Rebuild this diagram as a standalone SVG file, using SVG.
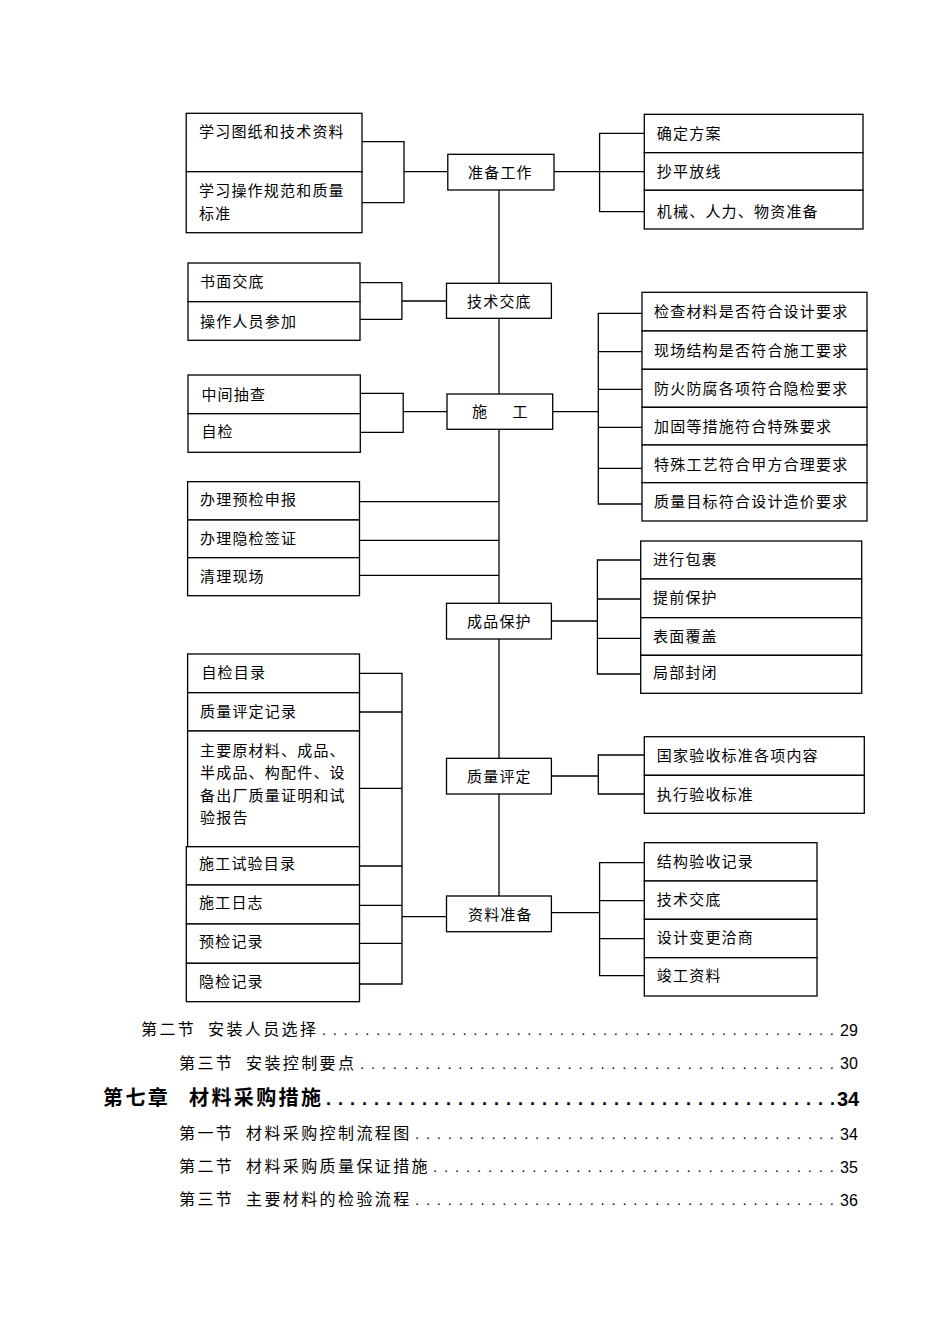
<svg xmlns="http://www.w3.org/2000/svg" width="950" height="1344" viewBox="0 0 950 1344">
<style>
.b{fill:#fff;stroke:#000;stroke-width:1.3}
.t{font-family:"Noto Sans CJK SC","Liberation Sans",sans-serif;font-size:15px;letter-spacing:1.2px;fill:#000}
.c path{fill:none;stroke:#000;stroke-width:1.3}
.toc{font-family:"Noto Sans CJK SC","Liberation Sans",sans-serif;font-size:16px;letter-spacing:2.4px;fill:#000}
.ch{font-family:"Noto Sans CJK SC","Liberation Sans",sans-serif;font-size:20px;font-weight:bold;letter-spacing:2.4px;fill:#000}
.dot{font-family:"Liberation Sans",sans-serif;font-size:15px;fill:#000}
.dotb{font-family:"Liberation Sans",sans-serif;font-size:18px;font-weight:bold;fill:#000}
.num{font-family:"Liberation Sans",sans-serif;font-size:16px;fill:#000}
.numb{font-family:"Liberation Sans",sans-serif;font-size:20px;font-weight:bold;fill:#000}
</style>
<rect width="950" height="1344" fill="#fff"/>
<g class="c" id="connectors">
<path d="M499 190V283.3M499 318.3V394M499 429.3V603.3M499 639V758.3M499 794V896"/>
<path d="M362 141.7H404V202.7H362M404 171.7H447.8"/>
<path d="M554 171.7H599.6M644.3 133.3H599.6V211.7H644.3M599.6 171.7H644.3"/>
<path d="M360 282.7H401.9V319.3H360M401.9 301H446.5"/>
<path d="M360.3 393.3H403.2V432.3H360.3M403.2 411.7H447"/>
<path d="M552.7 411.7H598.3M642 313.3H598.3V504H642M598.3 351.7H642M598.3 389.3H642M598.3 427.3H642M598.3 468.3H642"/>
<path d="M359.5 501.7H499M359.5 540.3H499M359.5 575.3H499"/>
<path d="M551.4 621H597.4M640.7 560H597.4V674H640.7M597.4 599H640.7M597.4 638.3H640.7"/>
<path d="M551.4 776H598.3M644.3 755H598.3V794H644.3"/>
<path d="M359.5 673.3H402V984H359.5M359.5 712H402M359.5 788.3H402M359.5 866H402M359.5 905.3H402M359.5 943.3H402M402 916.7H446.5"/>
<path d="M551.4 912.7H599.6M644.3 862.7H599.6V975.7H644.3M599.6 900.7H644.3M599.6 938.7H644.3"/>
</g>

<g id="n-zbgz"><rect class="b" x="447.8" y="154.3" width="106.2" height="35.7"/><text class="t" x="468" y="178">准备工作</text></g>
<g id="n-jsjd"><rect class="b" x="446.5" y="283.3" width="104.9" height="35"/><text class="t" x="467" y="307">技术交底</text></g>
<g id="n-sg"><rect class="b" x="447" y="394" width="105.7" height="35.3"/><text class="t" x="472" y="417">施 <tspan x="512.6">工</tspan></text></g>
<g id="n-cpbh"><rect class="b" x="446.5" y="603.3" width="104.9" height="35.7"/><text class="t" x="467" y="627">成品保护</text></g>
<g id="n-zlpd"><rect class="b" x="446.5" y="758.3" width="104.9" height="35.7"/><text class="t" x="467" y="781.5">质量评定</text></g>
<g id="n-zlzb"><rect class="b" x="446.5" y="896" width="104.9" height="35.7"/><text class="t" x="468" y="919.5">资料准备</text></g>

<g id="n-l1a"><rect class="b" x="186.2" y="113.3" width="175.8" height="58.4"/><text class="t" x="199" y="137">学习图纸和技术资料</text></g>
<g id="n-l1b"><rect class="b" x="186.2" y="171.7" width="175.8" height="61"/><text class="t" x="199" y="195.5">学习操作规范和质量</text><text class="t" x="199" y="218.5">标准</text></g>

<g id="n-r1a"><rect class="b" x="644.3" y="114.3" width="218.7" height="38.4"/><text class="t" x="656.8" y="138.5">确定方案</text></g>
<g id="n-r1b"><rect class="b" x="644.3" y="152.7" width="218.7" height="37.6"/><text class="t" x="656.8" y="177">抄平放线</text></g>
<g id="n-r1c"><rect class="b" x="644.3" y="190.3" width="218.7" height="38.7"/><text class="t" x="656.8" y="216.5">机械、人力、物资准备</text></g>

<g id="n-l2a"><rect class="b" x="188" y="263" width="172" height="38.7"/><text class="t" x="200" y="287">书面交底</text></g>
<g id="n-l2b"><rect class="b" x="188" y="301.7" width="172" height="38.6"/><text class="t" x="200" y="326.5">操作人员参加</text></g>

<g id="n-r3a"><rect class="b" x="642" y="292.3" width="225" height="38.7"/><text class="t" x="654" y="317">检查材料是否符合设计要求</text></g>
<g id="n-r3b"><rect class="b" x="642" y="331" width="225" height="38.3"/><text class="t" x="654" y="355.5">现场结构是否符合施工要求</text></g>
<g id="n-r3c"><rect class="b" x="642" y="369.3" width="225" height="38"/><text class="t" x="654" y="393.5">防火防腐各项符合隐检要求</text></g>
<g id="n-r3d"><rect class="b" x="642" y="407.3" width="225" height="37.7"/><text class="t" x="654" y="432">加固等措施符合特殊要求</text></g>
<g id="n-r3e"><rect class="b" x="642" y="445" width="225" height="37.7"/><text class="t" x="654" y="469.5">特殊工艺符合甲方合理要求</text></g>
<g id="n-r3f"><rect class="b" x="642" y="482.7" width="225" height="38.3"/><text class="t" x="654" y="506.5">质量目标符合设计造价要求</text></g>

<g id="n-l3a"><rect class="b" x="188" y="375" width="172.3" height="38.7"/><text class="t" x="201.4" y="399.5">中间抽查</text></g>
<g id="n-l3b"><rect class="b" x="188" y="413.7" width="172.3" height="38.6"/><text class="t" x="201.4" y="437">自检</text></g>

<g id="n-l4a"><rect class="b" x="187.6" y="481.7" width="171.9" height="38.3"/><text class="t" x="200" y="504.5">办理预检申报</text></g>
<g id="n-l4b"><rect class="b" x="187.6" y="520" width="171.9" height="37.7"/><text class="t" x="200" y="543.5">办理隐检签证</text></g>
<g id="n-l4c"><rect class="b" x="187.6" y="557.7" width="171.9" height="38"/><text class="t" x="200" y="581.5">清理现场</text></g>

<g id="n-r4a"><rect class="b" x="640.7" y="541" width="221" height="38"/><text class="t" x="653" y="564.5">进行包裹</text></g>
<g id="n-r4b"><rect class="b" x="640.7" y="579" width="221" height="38.7"/><text class="t" x="653" y="603">提前保护</text></g>
<g id="n-r4c"><rect class="b" x="640.7" y="617.7" width="221" height="37.6"/><text class="t" x="653" y="642">表面覆盖</text></g>
<g id="n-r4d"><rect class="b" x="640.7" y="655.3" width="221" height="38"/><text class="t" x="653" y="678">局部封闭</text></g>

<g id="n-l5a"><rect class="b" x="187.6" y="654" width="171.9" height="38.7"/><text class="t" x="201.4" y="678">自检目录</text></g>
<g id="n-l5b"><rect class="b" x="187.6" y="692.7" width="171.9" height="38.3"/><text class="t" x="200" y="716.5">质量评定记录</text></g>
<g id="n-l5c"><rect class="b" x="187.6" y="731" width="171.9" height="115.7"/><text class="t" x="200" y="755.5">主要原材料、成品、</text><text class="t" x="200" y="778">半成品、构配件、设</text><text class="t" x="200" y="800.5">备出厂质量证明和试</text><text class="t" x="200" y="822.5">验报告</text></g>
<g id="n-l5d"><rect class="b" x="186.3" y="846.7" width="173.2" height="38.3"/><text class="t" x="199" y="868.5">施工试验目录</text></g>
<g id="n-l5e"><rect class="b" x="186.3" y="885" width="173.2" height="39"/><text class="t" x="199" y="908">施工日志</text></g>
<g id="n-l5f"><rect class="b" x="186.3" y="924" width="173.2" height="39.3"/><text class="t" x="199" y="947">预检记录</text></g>
<g id="n-l5g"><rect class="b" x="186.3" y="963.3" width="173.2" height="38.4"/><text class="t" x="199" y="987">隐检记录</text></g>

<g id="n-r5a"><rect class="b" x="644.3" y="736.7" width="220" height="38.6"/><text class="t" x="656.8" y="760.5">国家验收标准各项内容</text></g>
<g id="n-r5b"><rect class="b" x="644.3" y="775.3" width="220" height="38"/><text class="t" x="656.8" y="799.5">执行验收标准</text></g>

<g id="n-r6a"><rect class="b" x="644.3" y="842.7" width="172.7" height="38.3"/><text class="t" x="656.8" y="866.5">结构验收记录</text></g>
<g id="n-r6b"><rect class="b" x="644.3" y="881" width="172.7" height="38.3"/><text class="t" x="656.8" y="904.5">技术交底</text></g>
<g id="n-r6c"><rect class="b" x="644.3" y="919.3" width="172.7" height="38.4"/><text class="t" x="656.8" y="942.5">设计变更洽商</text></g>
<g id="n-r6d"><rect class="b" x="644.3" y="957.7" width="172.7" height="38.3"/><text class="t" x="656.8" y="980.5">竣工资料</text></g>

<g id="toc">
<text class="toc" x="141" y="1035">第二节<tspan x="208">安装人员选择</tspan></text>
<text class="dot" x="322" y="1035" textLength="512" lengthAdjust="spacing">................................................</text>
<text class="num" x="840" y="1035.5">29</text>

<text class="toc" x="179" y="1068.5">第三节<tspan x="246">安装控制要点</tspan></text>
<text class="dot" x="360" y="1068.5" textLength="474" lengthAdjust="spacing">............................................</text>
<text class="num" x="840" y="1069">30</text>

<text class="ch" x="103" y="1105">第七章<tspan x="189">材料采购措施</tspan></text>
<text class="dotb" x="326" y="1105" textLength="509" lengthAdjust="spacing">...........................................</text>
<text class="numb" x="837" y="1105.5">34</text>

<text class="toc" x="179" y="1139">第一节<tspan x="246">材料采购控制流程图</tspan></text>
<text class="dot" x="415" y="1139" textLength="419" lengthAdjust="spacing">.......................................</text>
<text class="num" x="840" y="1139.5">34</text>

<text class="toc" x="179" y="1172">第二节<tspan x="246">材料采购质量保证措施</tspan></text>
<text class="dot" x="433" y="1172" textLength="401" lengthAdjust="spacing">.....................................</text>
<text class="num" x="840" y="1172.5">35</text>

<text class="toc" x="179" y="1205">第三节<tspan x="246">主要材料的检验流程</tspan></text>
<text class="dot" x="415" y="1205" textLength="419" lengthAdjust="spacing">.......................................</text>
<text class="num" x="840" y="1205.5">36</text>
</g>
</svg>
